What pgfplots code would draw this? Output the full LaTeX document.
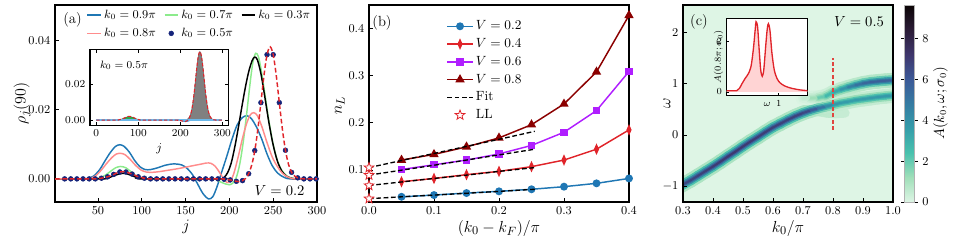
\documentclass[border=0pt]{standalone}
\usepackage{pgfplots}
\usepackage{pgfplotstable}
\pgfplotsset{compat=1.18}
\usetikzlibrary{plotmarks}
\definecolor{cblue}{HTML}{1F77B4}
\definecolor{csalmon}{HTML}{FF8C8C}
\definecolor{cgreen}{HTML}{8CEB8C}
\definecolor{cnavy}{HTML}{14237A}
\definecolor{cred}{HTML}{E0242A}
\definecolor{cpurple}{HTML}{B01EFF}
\definecolor{cdred}{HTML}{8B0000}
\definecolor{cmint}{RGB}{222,245,229}
\definecolor{cfillgreen}{HTML}{2EAA4A}
\definecolor{cfillblue}{HTML}{2A8FD6}
\definecolor{cline0}{HTML}{6BB8EA}
\definecolor{cvline}{HTML}{E04540}
\newcommand{\fsz}[1]{\fontsize{#1}{#1}\selectfont}
\pgfdeclareplotmark{ostar}{%
  \pgfpathmoveto{\pgfpointpolar{90}{\pgfplotmarksize}}%
  \pgfpathlineto{\pgfpointpolar{126}{0.42\pgfplotmarksize}}%
  \pgfpathlineto{\pgfpointpolar{162}{\pgfplotmarksize}}%
  \pgfpathlineto{\pgfpointpolar{198}{0.42\pgfplotmarksize}}%
  \pgfpathlineto{\pgfpointpolar{234}{\pgfplotmarksize}}%
  \pgfpathlineto{\pgfpointpolar{270}{0.42\pgfplotmarksize}}%
  \pgfpathlineto{\pgfpointpolar{306}{\pgfplotmarksize}}%
  \pgfpathlineto{\pgfpointpolar{342}{0.42\pgfplotmarksize}}%
  \pgfpathlineto{\pgfpointpolar{18}{\pgfplotmarksize}}%
  \pgfpathlineto{\pgfpointpolar{54}{0.42\pgfplotmarksize}}%
  \pgfpathclose
  \pgfusepathqfillstroke
}
\pgfplotsset{
  base/.style={
    scale only axis, anchor=south west,
    tick align=inside, tick pos=left,
    major tick length=3pt,
    tick style={black, line width=0.6pt},
    axis line style={line width=0.9pt, black},
    tick label style={font=\fsz{9.5}},
    label style={font=\fsz{12.5}},
    legend cell align=left,
  },
}
\pgfplotstableread{
k w m
0.28 -1.03 6.4
0.30 -0.96 6.6
0.325 -0.88 6.7
0.35 -0.79 6.8
0.375 -0.70 6.9
0.40 -0.61 7.0
0.425 -0.515 7.0
0.45 -0.415 7.1
0.475 -0.32 7.1
0.50 -0.22 7.1
0.525 -0.125 7.0
0.55 -0.035 7.0
0.575 0.06 6.9
0.60 0.15 6.9
0.625 0.225 6.8
0.65 0.30 6.8
0.675 0.37 6.8
0.70 0.43 6.7
0.725 0.48 6.4
0.75 0.52 5.6
0.775 0.555 4.6
0.80 0.59 4.0
0.825 0.625 3.7
0.85 0.65 3.6
0.875 0.68 3.6
0.90 0.70 3.7
0.925 0.72 3.7
0.95 0.74 3.8
0.975 0.755 3.8
1.00 0.77 3.8
1.02 0.78 3.8
}\lowband
\pgfplotstableread{
k w m
0.70 0.72 0.3
0.725 0.72 0.8
0.75 0.725 1.6
0.775 0.755 2.4
0.80 0.83 3.0
0.825 0.885 3.6
0.85 0.93 4.3
0.875 0.97 5.0
0.90 1.005 5.4
0.925 1.03 5.7
0.95 1.045 5.8
0.975 1.058 5.8
1.00 1.068 5.8
1.02 1.075 5.8
}\upband
\pgfplotstableread{
k w m
0.75 0.46 0.5
0.78 0.43 0.7
0.81 0.42 0.6
0.84 0.43 0.35
}\shadowband
\begin{document}
\begin{tikzpicture}
\path[use as bounding box] (0,0) rectangle (714.75pt,184.5pt);
% ---------------- panel (a)
\begin{axis}[base, at={(41.25pt,33pt)}, width=196.5pt, height=147.75pt,
  xmin=1, xmax=300, ymin=-0.0067, ymax=0.0504,
  xtick={50,100,150,200,250,300}, ytick={0,0.02,0.04},
  scaled y ticks=false,
  yticklabel style={/pgf/number format/.cd, fixed, fixed zerofill, precision=2},
  xlabel={$j$}, ylabel={$\rho_j(90)$},
  xlabel style={font=\fsz{13}, at={(axis description cs:0.5,-0.125)}, anchor=center},
  ylabel style={at={(axis description cs:-0.126,0.5)}, anchor=center},
  clip mode=individual,
  legend columns=3,
  legend style={draw=none, fill=none, at={(0.12,0.99)}, anchor=north west, inner sep=0pt,
    font=\fsz{9}, /tikz/every even column/.append style={column sep=4pt}, row sep=2pt},
  legend image code/.code={\draw[mark repeat=2,mark phase=2,#1] plot coordinates {(0pt,0pt) (5pt,0pt) (10pt,0pt)};},
]
\addplot[cblue, line width=1.1pt, smooth] coordinates {
(1,0) (30,0) (38,0.0001) (45,0.0008) (52,0.0027) (58,0.0052) (64,0.0076) (70,0.0094) (75,0.0099)
(80,0.0094) (86,0.0077) (92,0.0053) (98,0.0035) (104,0.0027) (110,0.0027) (118,0.0032) (126,0.0039)
(134,0.0043) (140,0.0043) (146,0.0040) (152,0.0030) (158,0.0012) (164,-0.0016) (170,-0.0043)
(176,-0.0058) (181,-0.0052) (186,-0.0022) (191,0.0018) (197,0.0065) (203,0.0115) (209,0.0157)
(215,0.0178) (220,0.0183) (225,0.0175) (231,0.0150) (237,0.0115) (243,0.0072) (249,0.0038)
(255,0.0017) (262,0.0005) (270,0) (300,0)};
\addlegendentry{$k_0=0.9\pi$}
\addplot[cgreen, line width=1.1pt, smooth] coordinates {
(1,0) (45,0) (52,0.0003) (58,0.0010) (64,0.0021) (70,0.0032) (76,0.0036) (82,0.0032) (88,0.0020)
(94,0.0008) (100,0.0002) (106,0) (180,0) (186,-0.0004) (191,-0.0010) (196,-0.0015) (200,-0.0017)
(204,-0.0012) (208,0.0005) (212,0.0045) (216,0.0110) (220,0.0195) (224,0.0285) (227,0.0340)
(230,0.0364) (233,0.0355) (236,0.0320) (240,0.0255) (245,0.0170) (250,0.0100) (255,0.0052)
(260,0.0024) (266,0.0008) (272,0.0002) (280,0) (300,0)};
\addlegendentry{$k_0=0.7\pi$}
\addplot[black, line width=1.1pt, smooth] coordinates {
(1,0) (55,0) (62,0.0003) (68,0.0009) (74,0.0014) (79,0.0016) (84,0.0014) (90,0.0008) (96,0.0003)
(102,0) (190,0) (194,0.0004) (198,0.0018) (202,0.0045) (206,0.0090) (210,0.0145) (214,0.0205)
(218,0.0262) (222,0.0310) (226,0.0343) (229,0.0353) (232,0.0345) (236,0.0305) (240,0.0245)
(245,0.0165) (250,0.0098) (255,0.0050) (260,0.0022) (265,0.0008) (272,0.0001) (280,0) (300,0)};
\addlegendentry{$k_0=0.3\pi$}
\addplot[csalmon, line width=1.1pt, smooth] coordinates {
(1,0) (35,0) (42,0.0002) (48,0.0010) (54,0.0026) (60,0.0045) (66,0.0062) (71,0.0072) (76,0.0074)
(81,0.0070) (87,0.0056) (93,0.0039) (99,0.0026) (105,0.0020) (112,0.0019) (120,0.0021) (130,0.0025)
(140,0.0029) (150,0.0034) (160,0.0039) (168,0.0043) (174,0.0046) (179,0.0045) (184,0.0036)
(189,0.0018) (193,0.0002) (197,-0.0010) (201,-0.0007) (205,0.0015) (210,0.0063) (215,0.0118)
(220,0.0163) (224,0.0186) (228,0.0192) (232,0.0183) (237,0.0152) (243,0.0105) (249,0.0063)
(255,0.0035) (261,0.0015) (268,0.0004) (276,0) (300,0)};
\addlegendentry{$k_0=0.8\pi$}
\addplot[only marks, mark=*, mark size=1.8pt, cnavy] coordinates {
(12,0) (19,0) (26,0) (33,0) (40,0) (47,0) (54,0.0002) (61,0.0006) (68,0.0013) (75,0.0020)
(82,0.0020) (89,0.0014) (96,0.0006) (103,0.0002) (110,0) (117,0) (124,0) (131,0) (138,0) (145,0)
(152,0) (159,0) (166,0) (173,0) (180,0) (187,0) (194,-0.0001) (201,-0.0003) (208,-0.0007)
(215,-0.0005) (222,0.0015) (229,0.0082) (236,0.0221) (243,0.0360) (250,0.0360) (257,0.0221)
(264,0.0083) (271,0.0019) (278,0.0003) (285,0) (292,0) (299,0)};
\addlegendentry{$k_0=0.5\pi$}
\addplot[forget plot, cred, line width=1.1pt, dash pattern=on 3.5pt off 2pt, smooth] coordinates {
(1,0) (40,0) (47,0) (50.5,0.0001) (54,0.0002) (57.5,0.0004) (61,0.0006) (64.5,0.0009) (68,0.0013)
(71.5,0.0017) (75,0.0020) (78.5,0.0021) (82,0.0020) (85.5,0.0017) (89,0.0014) (92.5,0.0010)
(96,0.0006) (99.5,0.0004) (103,0.0002) (110,0) (187,0) (194,-0.0001) (201,-0.0003) (204.5,-0.0005)
(208,-0.0007) (211.5,-0.0008) (215,-0.0005) (218.5,0.0001) (222,0.0015) (225.5,0.0040)
(229,0.0082) (232.5,0.0144) (236,0.0221) (239.5,0.0300) (243,0.0360) (246.5,0.0383) (250,0.0360)
(253.5,0.0300) (257,0.0221) (260.5,0.0144) (264,0.0083) (267.5,0.0042) (271,0.0019)
(274.5,0.0008) (278,0.0003) (285,0) (300,0)};
\node[font=\fsz{11}] at (rel axis cs:0.067,0.924) {(a)};
\node[font=\fsz{11}, anchor=east] at (rel axis cs:0.97,0.057) {$V=0.2$};
\end{axis}
% ---------------- inset (a)
\begin{axis}[base, at={(67.5pt,90.5pt)}, width=104pt, height=57pt,
  xmin=-15, xmax=315, ymin=-0.0029, ymax=0.0395,
  tick pos=both, xtick={0,100,200,300}, ytick={0,0.02},
  scaled y ticks=false,
  yticklabel style={/pgf/number format/.cd, fixed, fixed zerofill, precision=2},
  tick label style={font=\fsz{8}}, major tick length=2.5pt,
  xlabel={$j$}, label style={font=\fsz{9}},
  xlabel style={yshift=2pt},
  axis background/.style={fill=white},
]
\addplot[fill=gray, draw=black!60, line width=0.4pt, smooth] coordinates {
(212,0) (218.5,0.0008) (222,0.0019) (225.5,0.0042) (229,0.0083) (232.5,0.0144) (236,0.0221)
(239.5,0.0300) (243,0.0360) (246.5,0.0383) (250,0.0360) (253.5,0.0300) (257,0.0221) (260.5,0.0144)
(264,0.0083) (267.5,0.0042) (271,0.0019) (274.5,0.0008) (281,0)} \closedcycle;
\addplot[fill=cfillgreen, draw=cfillgreen!70!black, line width=0.4pt, smooth] coordinates {
(45,0) (54,0.0002) (61,0.0006) (68,0.0013) (75,0.0019) (78.5,0.0020) (82,0.0019) (89,0.0013)
(96,0.0006) (103,0.0002) (110,0)} \closedcycle;
\addplot[fill=cfillblue, draw=cfillblue, line width=0.4pt, smooth] coordinates {
(195,0) (201,-0.0003) (204.5,-0.0005) (208,-0.0007) (211.5,-0.0008) (215,-0.0008) (218.5,-0.0006)
(222,-0.0004) (226,-0.0002) (232,0)} \closedcycle;
\addplot[cline0, line width=1.1pt] coordinates {(0,0) (300,0)};
\addplot[cred, line width=0.8pt, dash pattern=on 2.5pt off 1.5pt, smooth] coordinates {
(0,0) (47,0) (54,0.0002) (61,0.0006) (68,0.0013) (75,0.0020) (78.5,0.0021) (82,0.0020) (89,0.0014)
(96,0.0006) (103,0.0002) (110,0) (187,0) (194,-0.0001) (201,-0.0003) (208,-0.0007) (211.5,-0.0008)
(215,-0.0005) (218.5,0.0001) (222,0.0015) (225.5,0.0040) (229,0.0082) (232.5,0.0144) (236,0.0221)
(239.5,0.0300) (243,0.0360) (246.5,0.0383) (250,0.0360) (253.5,0.0300) (257,0.0221) (260.5,0.0144)
(264,0.0083) (267.5,0.0042) (271,0.0019) (274.5,0.0008) (278,0.0003) (285,0) (300,0)};
\node[font=\fsz{8}] at (rel axis cs:0.245,0.79) {$k_0=0.5\pi$};
\end{axis}
% ---------------- panel (b)
\begin{axis}[base, at={(276.75pt,33pt)}, width=195pt, height=147.75pt,
  xmin=0, xmax=0.4, ymin=0.032, ymax=0.45,
  xtick={0,0.1,0.2,0.3,0.4}, ytick={0.1,0.2,0.3,0.4},
  xticklabel style={/pgf/number format/.cd, fixed, fixed zerofill, precision=1},
  yticklabel style={/pgf/number format/.cd, fixed, fixed zerofill, precision=1},
  xlabel={$(k_0-k_F)/\pi$}, ylabel={$n_L$},
  xlabel style={at={(axis description cs:0.5,-0.134)}, anchor=center},
  ylabel style={at={(axis description cs:-0.112,0.49)}, anchor=center},
  clip mode=individual,
  legend style={draw=none, fill=none, at={(0.298,0.935)}, anchor=north west, inner sep=0pt,
    font=\fsz{10}, row sep=1pt},
  legend image code/.code={\draw[mark repeat=2,mark phase=2,#1] plot coordinates {(0pt,0pt) (9.4pt,0pt) (18.8pt,0pt)};},
]
\addplot[cblue, line width=1.1pt, mark=*, mark size=2.4pt] coordinates {
(0.05,0.043) (0.1,0.0467) (0.15,0.051) (0.2,0.0546) (0.25,0.059) (0.3,0.0645) (0.35,0.0716) (0.4,0.082)};
\addlegendentry{$V=0.2$}
\addplot[cred, line width=1.1pt, mark=diamond*, mark size=3pt, mark options={xscale=0.6}] coordinates {
(0.05,0.075) (0.1,0.082) (0.15,0.090) (0.2,0.097) (0.25,0.107) (0.3,0.121) (0.35,0.144) (0.4,0.185)};
\addlegendentry{$V=0.4$}
\addplot[cpurple, line width=1.1pt, mark=square*, mark size=2.2pt] coordinates {
(0.05,0.101) (0.1,0.111) (0.15,0.121) (0.2,0.134) (0.25,0.152) (0.3,0.180) (0.35,0.226) (0.4,0.309)};
\addlegendentry{$V=0.6$}
\addplot[cdred, line width=1.1pt, mark=triangle*, mark size=3pt] coordinates {
(0.05,0.121) (0.1,0.133) (0.15,0.149) (0.2,0.168) (0.25,0.196) (0.3,0.240) (0.35,0.308) (0.4,0.428)};
\addlegendentry{$V=0.8$}
\addplot[black, line width=1pt, dash pattern=on 3.5pt off 2pt] coordinates {
(0,0.039) (0.05,0.043) (0.1,0.0467) (0.15,0.0505) (0.2,0.0545) (0.255,0.059)};
\addlegendentry{Fit}
\addplot[forget plot, black, line width=1pt, dash pattern=on 3.5pt off 2pt] coordinates {
(0,0.067) (0.05,0.0745) (0.1,0.082) (0.15,0.089) (0.2,0.097) (0.255,0.105)};
\addplot[forget plot, black, line width=1pt, dash pattern=on 3.5pt off 2pt] coordinates {
(0,0.089) (0.05,0.0995) (0.1,0.110) (0.15,0.121) (0.2,0.132) (0.255,0.144)};
\addplot[forget plot, black, line width=1pt, dash pattern=on 3.5pt off 2pt] coordinates {
(0,0.105) (0.05,0.120) (0.1,0.135) (0.15,0.150) (0.2,0.165) (0.255,0.182)};
\addplot[only marks, mark=ostar, mark size=3.8pt, mark options={draw=cred, fill=white, line width=0.6pt}] coordinates {
(0,0.039) (0,0.067) (0,0.089) (0,0.105)};
\addlegendentry{LL}
\node[font=\fsz{11}] at (rel axis cs:0.05,0.91) {(b)};
\end{axis}
% ---------------- panel (c)
\begin{axis}[base, at={(512.25pt,33pt)}, width=157.5pt, height=147.75pt,
  xmin=0.3, xmax=1.0, ymin=-1.3, ymax=2.53,
  xtick={0.3,0.4,0.5,0.6,0.7,0.8,0.9,1.0}, ytick={-1,0,1,2},
  xticklabel style={/pgf/number format/.cd, fixed, fixed zerofill, precision=1},
  xlabel={$k_0/\pi$}, ylabel={$\omega$},
  xlabel style={at={(axis description cs:0.5,-0.135)}, anchor=center},
  ylabel style={at={(axis description cs:-0.076,0.5)}, anchor=center},
  axis background/.style={fill=cmint},
  axis on top,
  colormap={makor}{rgb255=(222,245,229) rgb255=(160,223,185) rgb255=(73,193,173) rgb255=(53,157,170) rgb255=(53,123,162) rgb255=(60,89,151) rgb255=(62,53,107) rgb255=(43,28,54) rgb255=(11,4,5)},
  point meta min=0, point meta max=9.65,
  colorbar,
  colorbar style={
    at={(parent axis.north east)}, anchor=north west,
    width=7.5pt,
    ytick={0,2,4,6,8},
    yticklabel pos=right,
    tick align=outside, major tick length=2.5pt,
    tick style={black, line width=0.5pt},
    axis line style={gray!60, line width=0.6pt},
    yticklabel style={font=\fsz{9.5}},
    ylabel={$A(k_0,\omega;\sigma_0)$},
    ylabel style={font=\fsz{10.5}, at={(axis description cs:3.6,0.5)}, anchor=center},
  },
]
\addplot[mesh, point meta=explicit, line width=7pt, line cap=round, forget plot] table[x=k, y=w, meta=m] {\shadowband};
\addplot[mesh, point meta=explicit, line width=11pt, line cap=round, forget plot] table[x=k, y=w, meta expr=0.14*\thisrow{m}] {\lowband};
\addplot[mesh, point meta=explicit, line width=11pt, line cap=round, forget plot] table[x=k, y=w, meta expr=0.14*\thisrow{m}] {\upband};
\addplot[mesh, point meta=explicit, line width=7.5pt, line cap=round, forget plot] table[x=k, y=w, meta expr=0.35*\thisrow{m}] {\lowband};
\addplot[mesh, point meta=explicit, line width=7.5pt, line cap=round, forget plot] table[x=k, y=w, meta expr=0.35*\thisrow{m}] {\upband};
\addplot[mesh, point meta=explicit, line width=5pt, line cap=round, forget plot] table[x=k, y=w, meta expr=0.62*\thisrow{m}] {\lowband};
\addplot[mesh, point meta=explicit, line width=5pt, line cap=round, forget plot] table[x=k, y=w, meta expr=0.62*\thisrow{m}] {\upband};
\addplot[mesh, point meta=explicit, line width=3pt, line cap=round, forget plot] table[x=k, y=w, meta expr=0.85*\thisrow{m}] {\lowband};
\addplot[mesh, point meta=explicit, line width=3pt, line cap=round, forget plot] table[x=k, y=w, meta expr=0.85*\thisrow{m}] {\upband};
\addplot[mesh, point meta=explicit, line width=1.5pt, line cap=round, forget plot] table[x=k, y=w, meta=m] {\lowband};
\addplot[mesh, point meta=explicit, line width=1.5pt, line cap=round, forget plot] table[x=k, y=w, meta=m] {\upband};
\addplot[cvline, line width=1.4pt, dash pattern=on 3pt off 1.8pt, forget plot] coordinates {(0.8,0.1) (0.8,1.5)};
\node[font=\fsz{11}] at (rel axis cs:0.076,0.914) {(c)};
\node[font=\fsz{11}] at (rel axis cs:0.838,0.914) {$V=0.5$};
\end{axis}
% ---------------- inset (c)
\begin{axis}[base, at={(545pt,112.9pt)}, width=60.6pt, height=57.75pt,
  xmin=-0.35, xmax=1.74, ymin=-0.14, ymax=2.91,
  xtick={1}, ytick={0,2},
  tick label style={font=\fsz{7.5}}, major tick length=2pt,
  xlabel={$\omega$}, ylabel={$A(0.8\pi;\sigma_0)$},
  xlabel style={font=\fsz{7.5}, at={(axis description cs:0.5,0)}, anchor=north, yshift=-1.5pt},
  ylabel style={font=\fsz{7}, at={(axis description cs:-0.1,0.5)}, anchor=center},
  axis background/.style={fill=white},
]
\addplot[fill=red!17, draw=none, smooth] coordinates {
(-0.35,0.05) (-0.09,0.05) (-0.02,0.14) (0.04,0.31) (0.13,0.54) (0.21,0.72) (0.28,1.01) (0.34,1.69)
(0.39,2.5) (0.41,2.78) (0.45,2.57) (0.49,1.69) (0.53,0.88) (0.57,0.62) (0.61,0.88) (0.66,1.82)
(0.70,2.5) (0.73,2.70) (0.77,2.43) (0.82,1.55) (0.88,0.88) (0.95,0.54) (1.03,0.36) (1.16,0.23)
(1.34,0.14) (1.55,0.08) (1.74,0.05)} \closedcycle;
\addplot[cred, line width=1pt, smooth] coordinates {
(-0.35,0.05) (-0.09,0.05) (-0.02,0.14) (0.04,0.31) (0.13,0.54) (0.21,0.72) (0.28,1.01) (0.34,1.69)
(0.39,2.5) (0.41,2.78) (0.45,2.57) (0.49,1.69) (0.53,0.88) (0.57,0.62) (0.61,0.88) (0.66,1.82)
(0.70,2.5) (0.73,2.70) (0.77,2.43) (0.82,1.55) (0.88,0.88) (0.95,0.54) (1.03,0.36) (1.16,0.23)
(1.34,0.14) (1.55,0.08) (1.74,0.05)};
\end{axis}
\end{tikzpicture}
\end{document}
